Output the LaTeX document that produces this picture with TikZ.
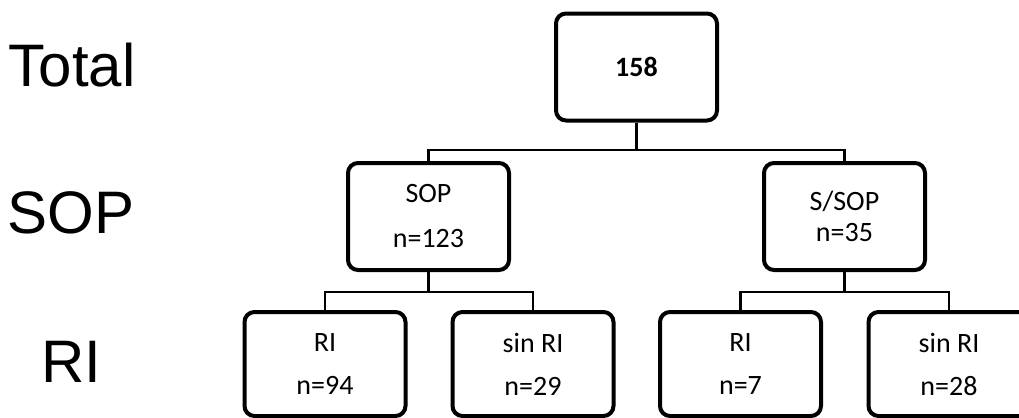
\documentclass[tikz,border=0pt]{standalone}
\usepackage{fontspec}
\setmainfont{Carlito}
\newfontfamily\labelfont{Liberation Sans}
\tikzset{
	box/.style={draw, line width=2pt, rounded corners=5pt, minimum width=80.5pt, minimum height=53.5pt, align=center, font=\fontsize{14}{17}\selectfont, inner sep=0pt},
	link/.style={line width=1.1pt},
	level/.style={font=\labelfont\fontsize{30}{36}\selectfont, inner sep=0pt}
}
\begin{document}
\begin{tikzpicture}[x=0.5pt, y=-0.5pt]
	
	\useasboundingbox (0,0) rectangle (1019,418);
	
	% row labels
	\node[level] (ltotal) at (72,65) {Total};
	\node[level] (lsop) at (71,213) {SOP};
	\node[level] (lri) at (71,362) {RI};
	
	% boxes
	\node[box] (total) at (636.5,67) {\bfseries 158};
	\node[box] (sop) at (428.5,216.5) {SOP\\[5.5pt]n=123};
	\node[box] (ssop) at (844.5,216.5) {S/SOP\\[-1.5pt]n=35};
	\node[box, minimum height=52pt] (ri1) at (325,364) {RI\\[4.5pt]n=94};
	\node[box, minimum height=52pt] (sinri1) at (533,364) {sin RI\\[4.5pt]n=29};
	\node[box, minimum height=52pt] (ri2) at (740.5,364) {RI\\[4.5pt]n=7};
	\node[box, minimum height=52pt] (sinri2) at (949,364) {sin RI\\[4.5pt]n=28};
	
	% branch points
	\coordinate (split1) at (636.5,150);
	\coordinate (split2) at (428.5,292);
	\coordinate (split3) at (844.5,292);
	
	% connectors
	\draw[link] (total.south) -- (split1) -| (sop.north);
	\draw[link] (split1) -| (ssop.north);
	\draw[link] (sop.south) -- (split2) -| (ri1.north);
	\draw[link] (split2) -| (sinri1.north);
	\draw[link] (ssop.south) -- (split3) -| (ri2.north);
	\draw[link] (split3) -| (sinri2.north);
	
\end{tikzpicture}
\end{document}
